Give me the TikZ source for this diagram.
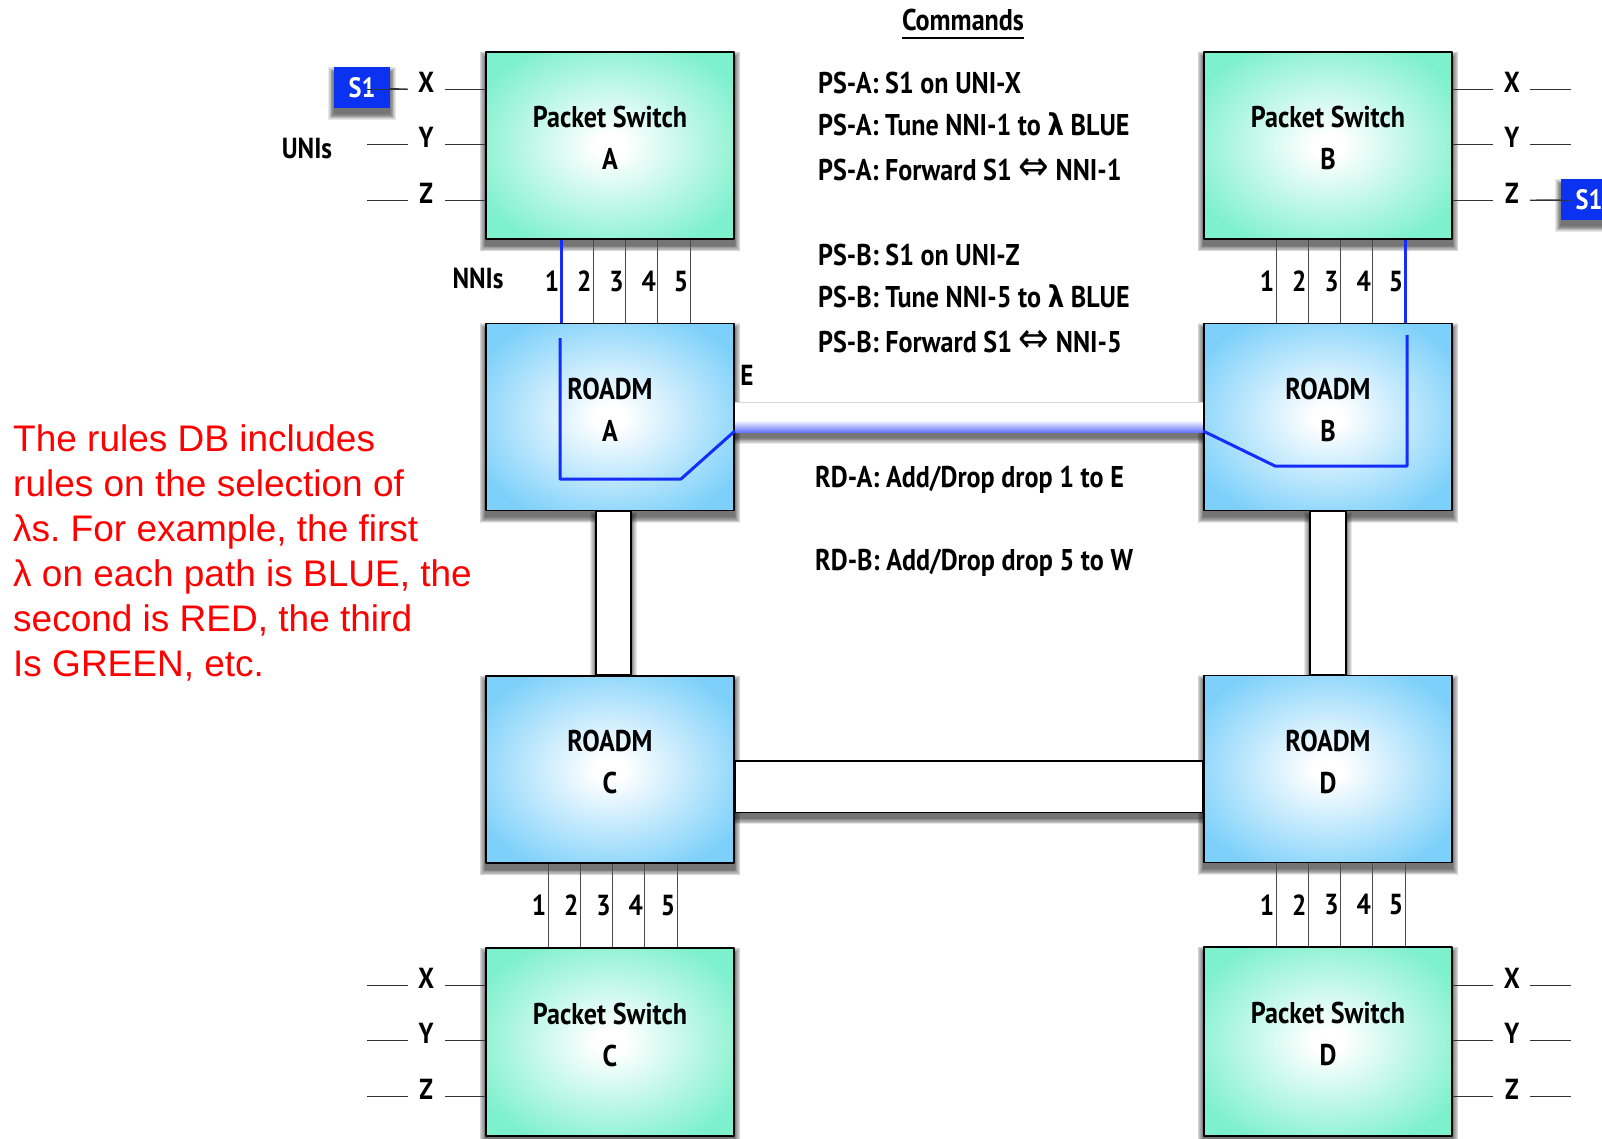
\documentclass[tikz,border=0pt]{standalone}
\usepackage{fontspec}
\setmainfont[FakeStretch=0.87]{PT Sans}
\newfontfamily\notefont{Liberation Sans}
\newfontfamily\symfont[FakeStretch=0.87]{DejaVu Sans}
\usetikzlibrary{calc}
\pgfdeclarelayer{background}
\pgfsetlayers{background,main}

\definecolor{psc}{RGB}{125,240,205}
\definecolor{rdc}{RGB}{125,208,250}
\definecolor{lamc}{RGB}{20,45,250}
\definecolor{s1c}{RGB}{10,50,240}
\definecolor{notec}{RGB}{255,0,0}

\pgfdeclareradialshading{psshade}{\pgfpoint{0bp}{0bp}}{color(0bp)=(white); color(3bp)=(white); color(30bp)=(psc); color(50bp)=(psc)}
\pgfdeclareradialshading{rdshade}{\pgfpoint{0bp}{0bp}}{color(0bp)=(white); color(3bp)=(white); color(30bp)=(rdc); color(50bp)=(rdc)}
\pgfdeclareverticalshading{eshade}{100bp}{color(0bp)=(lamc); color(14bp)=(lamc); color(45bp)=(white); color(100bp)=(white)}

\newcommand\lam{{\symfont\bfseries λ}}
\newcommand\fwd{{\symfont\mdseries\fontsize{42}{36}\selectfont ⇔}}

\tikzset{
  box/.style={draw=black, line width=1.6pt, minimum width=248pt, minimum height=187pt,
    inner sep=0pt, align=center, text depth=15pt, font=\bfseries\fontsize{30}{42}\selectfont},
  psbox/.style={box, shading=psshade},
  rdbox/.style={box, shading=rdshade},
  fiber/.style={draw=black, fill=white, line width=1.6pt},
  elink/.style={shading=eshade},
  lampath/.style={draw=lamc, line width=3pt},
  nniline/.style={draw=black!70, line width=0.9pt},
  uniline/.style={draw=black!80, line width=0.9pt},
  lbl/.style={inner sep=0pt, font=\bfseries\fontsize{29}{34}\selectfont},
  unilbl/.style={lbl},
  numlbl/.style={lbl},
  cmd/.style={inner sep=0pt, font=\bfseries\fontsize{30}{36}\selectfont},
  s1/.style={fill=s1c, text=white, minimum width=56pt, minimum height=41pt, inner sep=0pt,
    font=\bfseries\fontsize{28}{32}\selectfont},
  note/.style={inner sep=0pt, align=left, text=notec, font=\notefont\mdseries\frenchspacing\fontsize{37}{45}\selectfont}
}

\begin{document}
\begin{tikzpicture}[x=1pt, y=-1pt, line join=round]
  \def\unis#1#2#3{
    \foreach \uu/\dy in {X/-56.5,Y/-1.5,Z/54.5}{
      \coordinate (#1-\uu-a) at ($(#1.#2)+(0,\dy)$);
      \coordinate (#1-\uu-b) at ($(#1.#2)+(#3*40,\dy)$);
      \coordinate (#1-\uu-c) at ($(#1.#2)+(#3*77,\dy)$);
      \coordinate (#1-\uu-d) at ($(#1.#2)+(#3*118,\dy)$);
      \node[unilbl, anchor=base] (#1-\uu) at ($(#1.#2)+(#3*59,\dy+3)$) {\uu};
      \draw[uniline] (#1-\uu-a) -- (#1-\uu-b) (#1-\uu-c) -- (#1-\uu-d);
    }
  }
  \def\nnis#1#2#3{
    \foreach \k in {1,...,5}{
      \coordinate (#1-n\k) at ($(#1.south)+(#3+32.25*\k-32.25,0)$);
      \coordinate (#2-t\k) at ($(#2.north)+(#3+32.25*\k-32.25,0)$);
      \draw[nniline] (#1-n\k) -- (#2-t\k);
      \node[numlbl] (#1-l\k) at ($(#1-n\k)!0.5!(#2-t\k)+(-9,0)$) {\k};
    }
  }
  % soft shadow below a rectangle given by two corners
  \def\softshadow#1#2{
    \foreach \s in {0,...,7}{
      \fill[black, opacity=0.09] ($(#1)+(-\s*0.8,-\s*0.8+6)$) rectangle ($(#2)+(\s*0.8,\s*0.8+6)$);
    }
  }

  \useasboundingbox (0,0) rectangle (1602,1138);

  % boxes
  \node[psbox] (psA) at (610,145.5) {Packet Switch\\A};
  \node[rdbox] (rdA) at (610,417) {ROADM\\A};
  \node[rdbox] (rdC) at (610,769.5) {ROADM\\C};
  \node[psbox, minimum height=188pt] (psC) at (610,1042) {Packet Switch\\C};
  \node[psbox] (psB) at (1328,145.5) {Packet Switch\\B};
  \node[rdbox] (rdB) at (1328,417) {ROADM\\B};
  \node[rdbox] (rdD) at (1328,769) {ROADM\\D};
  \node[psbox, minimum height=189pt] (psD) at (1328,1041.5) {Packet Switch\\D};
  \node[s1] (s1A) at (362,87.5) {S1};
  \node[s1] (s1B) at (1589,199.5) {S1};

  % shadows and fibres between the ROADMs
  \begin{pgfonlayer}{background}
    \fill[white] (0,0) rectangle (1602,1138);
    \foreach \b in {psA,psB,psC,psD,rdA,rdB,rdC,rdD,s1A,s1B}{
      \softshadow{\b.north west}{\b.south east}
    }
    \coordinate (acTop) at ([xshift=-14pt]rdA.south);
    \coordinate (acBot) at ([xshift=21pt]rdC.north);
    \coordinate (bdTop) at ([xshift=-18pt]rdB.south);
    \coordinate (bdBot) at ([xshift=18pt]rdD.north);
    \coordinate (cdTop) at ([yshift=8.5pt]rdC.east);
    \coordinate (cdBot) at ([yshift=-43.5pt]rdD.west);
    \coordinate (abTop) at ([yshift=15pt]rdA.east);
    \coordinate (abBot) at ([yshift=-15pt]rdB.west);
    \softshadow{acTop}{acBot}
    \softshadow{bdTop}{bdBot}
    \softshadow{cdTop}{cdBot}
    \softshadow{abTop}{abBot}
    \draw[fiber] (acTop) rectangle (acBot);
    \draw[fiber] (bdTop) rectangle (bdBot);
    \draw[fiber] (cdTop) rectangle (cdBot);
    \fill[elink] (abTop) rectangle (abBot);
    \draw[black!15, line width=0.8pt] (abTop) -- (abTop -| abBot);
  \end{pgfonlayer}

  % UNIs and NNIs
  \unis{psA}{west}{-1}
  \unis{psC}{west}{-1}
  \unis{psB}{east}{1}
  \unis{psD}{east}{1}
  \nnis{psA}{rdA}{-49}
  \nnis{psB}{rdB}{-52}
  \nnis{rdC}{psC}{-62}
  \nnis{rdD}{psD}{-52}

  \draw[uniline] (s1A) -- (psA-X-c);
  \draw[uniline] (psB-Z-c) -- (s1B);

  \node[lbl] (unis) at (307,148) {UNIs};
  \node[lbl] (nnis) at (478,278) {NNIs};
  \node[lbl] (eport) at (747,375) {E};

  % the blue lambda
  \draw[lampath] (psA-n1) -- (rdA-t1);
  \draw[lampath] (psB-n5) -- (rdB-t5);
  \draw[lampath] ($(rdA.center)+(-50,-79)$) -- ($(rdA.center)+(-50,62)$) -- ($(rdA.center)+(71,62)$) -- ($(rdA.east)+(0,14)$);
  \draw[lampath] ($(rdB.center)+(79,-82)$) -- ($(rdB.center)+(79,49)$) -- ($(rdB.center)+(-53,49)$) -- ($(rdB.west)+(0,14)$);

  % commands
  \node[cmd, anchor=base] (cmdhead) at (963,30) {Commands};
  \draw[line width=1.6pt] ([yshift=-8pt]cmdhead.base west) -- ([yshift=-8pt]cmdhead.base east);
  \foreach \yy/\txt [count=\i] in {93/{PS-A: S1 on UNI-X}, 135/{PS-A: Tune NNI-1 to \lam{} BLUE},
      180/{PS-A: Forward S1 \fwd{} NNI-1}, 265/{PS-B: S1 on UNI-Z},
      307/{PS-B: Tune NNI-5 to \lam{} BLUE}, 352/{PS-B: Forward S1 \fwd{} NNI-5}}{
    \node[cmd, anchor=base west] (cmd\i) at (818,\yy) {\txt};
  }
  \node[cmd, anchor=base west] (rdcmdA) at (815,487) {RD-A: Add/Drop drop 1 to E};
  \node[cmd, anchor=base west] (rdcmdB) at (815,570) {RD-B: Add/Drop drop 5 to W};

  \node[note, anchor=north west] (rules) at (13,424) {The rules DB includes\\rules on the selection of\\λs. For example, the first\\λ on each path is BLUE, the\\second is RED, the third\\Is GREEN, etc.};
\end{tikzpicture}
\end{document}
